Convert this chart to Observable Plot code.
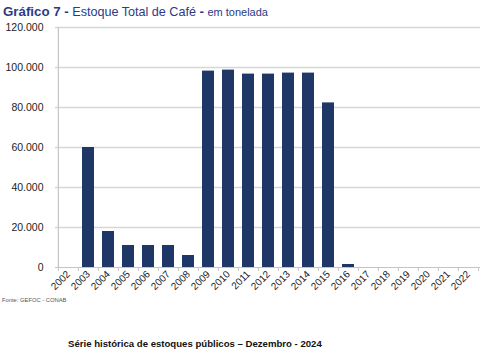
<!DOCTYPE html>
<html>
<head>
<meta charset="utf-8">
<script src="https://cdn.jsdelivr.net/npm/d3@7"></script>
<script src="https://cdn.jsdelivr.net/npm/@observablehq/plot@0.6"></script>
<style>
  html, body { margin: 0; padding: 0; background: #fff; }
  #wrap { position: relative; width: 488px; height: 354px; font-family: "Liberation Sans", Arial, sans-serif; overflow: hidden; }
  #title { position: absolute; left: 3px; top: 4px; color: #2b3a86; font-size: 12.6px; white-space: nowrap; }
  #title b { font-weight: bold; font-size: 13.3px; }
  #title small { font-size: 11px; }
  #chart { position: absolute; left: 0; top: 22px; }
  #source { position: absolute; left: 2px; top: 297px; font-size: 5.8px; color: #555; }
  #caption { position: absolute; left: 68px; top: 338px; font-size: 9.6px; font-weight: bold; color: #111; white-space: nowrap; }
</style>
</head>
<body>
<div id="wrap">
  <div id="title"><b>Gráfico 7 -</b> Estoque Total de Café <b>-</b> <small>em tonelada</small></div>
  <div id="chart"></div>
  <div id="source">Fonte: GEFOC - CONAB</div>
  <div id="caption">Série histórica de estoques públicos – Dezembro - 2024</div>
</div>
<script>
const years = ["2002","2003","2004","2005","2006","2007","2008","2009","2010","2011","2012","2013","2014","2015","2016","2017","2018","2019","2020","2021","2022"];
const stocks = [0, 60000, 18000, 11000, 11000, 11000, 6000, 98200, 98700, 96700, 96700, 97200, 97200, 82300, 1500, 0, 0, 0, 0, 0, 0];
const yTicks = [0, 20000, 40000, 60000, 80000, 100000, 120000];

const data = years.map((y, i) => ({year: y, value: stocks[i]}));
const fmt = d3.formatLocale({decimal: ",", thousands: ".", grouping: [3], currency: ["R$", ""]}).format(",d");

const W = 488, H = 275, ML = 55, MR = 8, MT = 5, MB = 30;
const step = (W - ML - MR) / years.length;

const chart = Plot.plot({
  width: W,
  height: H,
  marginLeft: ML,
  marginRight: MR,
  marginTop: MT,
  marginBottom: MB,
  style: {fontFamily: "'Liberation Sans', Arial, sans-serif", fontSize: "10.5px", color: "#222", background: "#fff"},
  x: {type: "band", domain: years, paddingInner: 0.42, paddingOuter: 0.21},
  y: {domain: [0, 120000]},
  marks: [
    Plot.ruleY(yTicks.filter(d => d > 0), {stroke: "#d6d6d6", strokeWidth: 1.5}),
    Plot.ruleY([0], {stroke: "#c4c4c4", strokeWidth: 1.2}),
    Plot.ruleX([years[0]], {y1: 0, y2: 120000, dx: -step / 2, stroke: "#c4c4c4", strokeWidth: 1.2}),
    Plot.ruleX(years, {y1: 0, y2: 0, insetBottom: -4, dx: -step / 2, stroke: "#c4c4c4", strokeWidth: 1}),
    Plot.ruleX([years[years.length - 1]], {y1: 0, y2: 0, insetBottom: -4, dx: step / 2, stroke: "#c4c4c4", strokeWidth: 1}),
    Plot.barY(data, {x: "year", y: "value", fill: "#1f3766"}),
    Plot.axisY({ticks: yTicks, tickFormat: fmt, tickSize: 0, tickPadding: 12, fontSize: 10.5, label: null}),
    Plot.axisX({tickRotate: -45, tickSize: 0, tickPadding: 5, fontSize: 10, label: null})
  ]
});
document.getElementById("chart").appendChild(chart);
</script>
</body>
</html>
